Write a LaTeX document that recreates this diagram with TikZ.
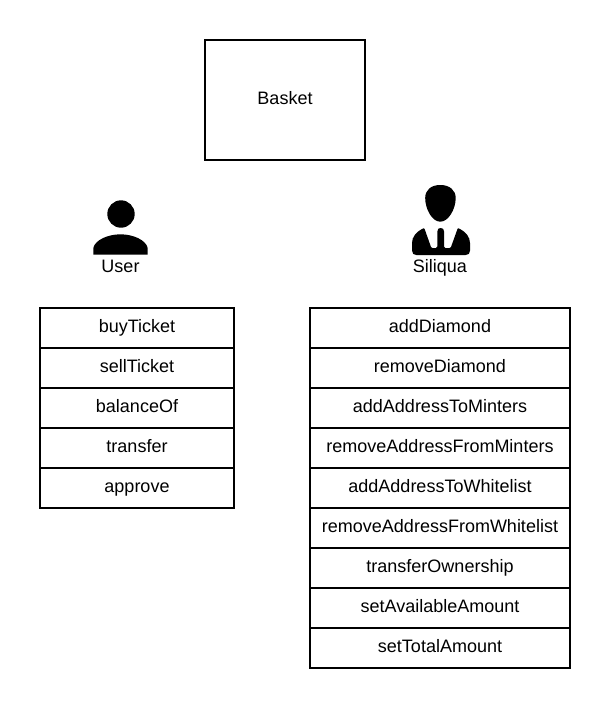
\documentclass[tikz,border=0pt]{standalone}
\usepackage{fontspec}
\setmainfont{Liberation Sans}
\usetikzlibrary{positioning}
\tikzset{
	basket/.style={draw=black, line width=1.5pt, outer sep=0pt, minimum width=120pt, minimum height=90pt, text height=9pt, text depth=3pt},
	userrow/.style={draw=black, line width=1.5pt, outer sep=0pt, minimum width=145.5pt, minimum height=30pt, inner sep=0pt, text height=9pt, text depth=3pt},
	siliquarow/.style={userrow, minimum width=195pt},
	caption/.style={inner sep=0pt, text height=9pt, text depth=0pt}
}

\begin{document}
\begin{tikzpicture}[x=0.75pt, y=-0.75pt, node distance=0pt, font=\fontsize{13.5}{16}\selectfont]
		\useasboundingbox (0,0) rectangle (611,708);

		\node[basket] (basket) at (285,100) {Basket};

		% user icon
		\fill (121,214) circle (13.7);
		\fill (93.3,254.5) -- (93.3,248) .. controls (95,240) and (108,234.3) .. (120.5,234.3)
			.. controls (133,234.3) and (146,240) .. (147.7,248) -- (147.7,254.5) -- cycle;
		\node[caption, anchor=base] (user) at (120.5,272) {User};

		% siliqua icon
		\fill (440.3,185) .. controls (449.5,185) and (455.7,190) .. (455.7,198)
			.. controls (455.7,209) and (448.5,221.7) .. (440.3,221.7)
			.. controls (432,221.7) and (425.2,209) .. (425.2,198)
			.. controls (425.2,190) and (431,185) .. (440.3,185) -- cycle;
		\fill (423,228.5) .. controls (416,232) and (412,237) .. (412,243) -- (412,250.5)
			.. controls (412,253.5) and (413.5,255) .. (416.5,255) -- (465.5,255)
			.. controls (468.5,255) and (470,253.5) .. (470,250.5) -- (470,243)
			.. controls (470,237) and (466,232) .. (459,228.5)
			.. controls (458,228) and (457.5,228.5) .. (457.3,229.5)
			-- (451,247) .. controls (450.8,247.8) and (450.3,248) .. (449.5,248) -- (445.5,248)
			.. controls (444.3,248) and (444,247.5) .. (444,246.5) -- (444,231.5)
			.. controls (444,229) and (442.8,228) .. (440.7,228)
			.. controls (438.6,228) and (437.4,229) .. (437.4,231.5) -- (437.4,246.5)
			.. controls (437.4,247.5) and (437,248) .. (436,248) -- (432.5,248)
			.. controls (431.7,248) and (431.2,247.8) .. (431,247)
			-- (424.8,229.5) .. controls (424.5,228.5) and (424,228) .. (423,228.5) -- cycle;
		\node[caption, anchor=base] (siliqua) at (440,272) {Siliqua};

		\node[userrow] (buyticket) at (137,328) {buyTicket};
		\node[userrow, below=of buyticket] (sellticket) {sellTicket};
		\node[userrow, below=of sellticket] (balanceof) {balanceOf};
		\node[userrow, below=of balanceof] (transfer) {transfer};
		\node[userrow, below=of transfer] (approve) {approve};

		\node[siliquarow] (adddiamond) at (440,328) {addDiamond};
		\node[siliquarow, below=of adddiamond] (removediamond) {removeDiamond};
		\node[siliquarow, below=of removediamond] (addminters) {addAddressToMinters};
		\node[siliquarow, below=of addminters] (removeminters) {removeAddressFromMinters};
		\node[siliquarow, below=of removeminters] (addwhitelist) {addAddressToWhitelist};
		\node[siliquarow, below=of addwhitelist] (removewhitelist) {removeAddressFromWhitelist};
		\node[siliquarow, below=of removewhitelist] (transferowner) {transferOwnership};
		\node[siliquarow, below=of transferowner] (setavailable) {setAvailableAmount};
		\node[siliquarow, below=of setavailable] (settotal) {setTotalAmount};
	\end{tikzpicture}
\end{document}
